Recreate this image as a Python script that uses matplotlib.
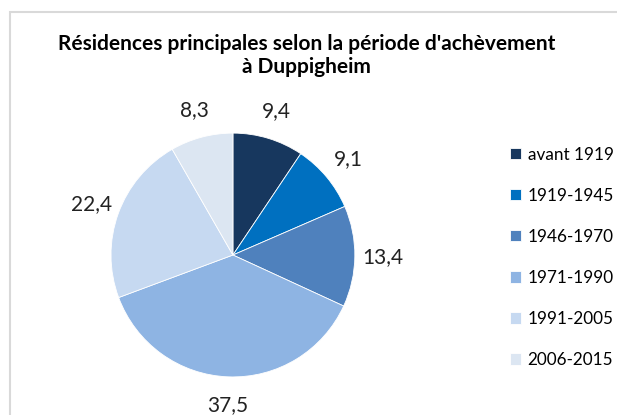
import matplotlib
matplotlib.use("Agg")
from matplotlib import pyplot as plt
from matplotlib.patches import Rectangle

periods = ["avant 1919", "1919-1945", "1946-1970", "1971-1990", "1991-2005", "2006-2015"]
shares = [9.4, 9.1, 13.4, 37.5, 22.4, 8.3]
colors = ["#17375E", "#0070C0", "#4F81BD", "#8EB4E3", "#C6D9F1", "#DCE6F2"]
title = "Résidences principales selon la période d'achèvement\nà Duppigheim"

plt.rcParams['font.family'] = ['Lato', 'DejaVu Sans']

fig = plt.figure(figsize=(6.17, 4.15), dpi=100)

# chart area border (cropped at right and bottom)
fig.patches.append(Rectangle((10/617, -0.1), 1.2, 1 - 12/415 + 0.1, transform=fig.transFigure,
                             fill=False, edgecolor="#D9D9D9", linewidth=1.5))

ax = fig.add_axes([0.1305, 0.018, 0.494, 0.735])
labels = [str(v).replace(".", ",") for v in shares]
wedges, texts = ax.pie(shares, labels=labels, colors=colors, startangle=90, counterclock=False,
                       labeldistance=1.23, wedgeprops=dict(edgecolor="white", linewidth=0.6),
                       textprops=dict(fontsize=15, color="#222222"))
for t in texts:
    t.set_ha("center")
ax.set_xlim(-1.25, 1.25)
ax.set_ylim(-1.25, 1.25)

fig.text(0.497, 0.867, title, ha="center", va="center", fontsize=15, fontweight="bold",
         linespacing=1.2)

fig.legend(wedges, periods, loc="center left", bbox_to_anchor=(0.815, 0.38), frameon=False,
           fontsize=12.3, handlelength=0.65, handleheight=0.65, handletextpad=0.4,
           labelspacing=1.47, borderaxespad=0)

plt.savefig("out.png", dpi=100)
